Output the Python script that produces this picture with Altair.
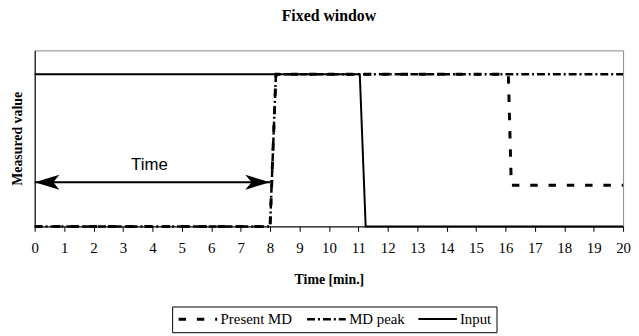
import altair as alt
import pandas as pd

# ---- data ----
series_names = ["Present MD", "MD peak", "Input"]

present_x = [0, 8.0, 8.2, 16.1, 16.2, 20]
present_y = [0, 0, 1, 1, 0.27, 0.27]

peak_x = [0, 8.0, 8.2, 20]
peak_y = [0, 0, 1, 1]

input_x = [0, 11.05, 11.25, 20]
input_y = [1, 1, 0, 0]

x_ticks = list(range(0, 21))

arrow_x = [0, 8]
arrow_y = [0.29, 0.29]
label_text = ["Time"]
label_x = [3.9]
label_y = [0.40]

rows = []
for name, xs, ys in [("Present MD", present_x, present_y),
                     ("MD peak", peak_x, peak_y),
                     ("Input", input_x, input_y)]:
    for i, (xv, yv) in enumerate(zip(xs, ys)):
        rows.append({"series": name, "t": xv, "v": yv, "i": i})
lines_df = pd.DataFrame(rows)

arrow_df = pd.DataFrame({"t": arrow_x, "v": arrow_y, "side": ["left", "right"]})
text_df = pd.DataFrame({"t": label_x, "v": label_y, "label": label_text})

serif = "Liberation Serif"

x_scale = alt.Scale(domain=[0, 20], nice=False, zero=False)
y_scale = alt.Scale(domain=[0, 1.157], nice=False)

x_axis = alt.Axis(values=x_ticks, title="Time [min.]", grid=False, format="d",
                  tickSize=5, tickColor="black", domainColor="black",
                  labelFont=serif, labelFontSize=15, labelColor="black",
                  labelPadding=9, labelOverlap=False, labelFlush=False,
                  titleFont=serif, titleFontSize=14,
                  titleFontWeight="bold", titleColor="black", titlePadding=18)
y_axis = alt.Axis(labels=False, ticks=False, grid=False,
                  domainColor="black", title="Measured value",
                  titleFont=serif, titleFontSize=14,
                  titleFontWeight="bold", titleColor="black", titlePadding=10)

x_enc = alt.X("t:Q", scale=x_scale, axis=x_axis)
y_enc = alt.Y("v:Q", scale=y_scale, axis=y_axis)

legend = alt.Legend(
    title=None, orient="none", legendX=139, legendY=259, direction="horizontal",
    strokeColor="black", padding=5, symbolType="M -1 0 L 5 0", symbolSize=169,
    symbolStrokeColor="black", labelFont=serif, labelFontSize=15,
    labelColor="black", labelOffset=28, columnPadding=9, cornerRadius=0,
)

lines = alt.Chart(lines_df).mark_line(color="black", strokeCap="butt").encode(
    x=x_enc,
    y=y_enc,
    order="i:Q",
    strokeDash=alt.StrokeDash("series:N",
                              scale=alt.Scale(domain=series_names,
                                              range=[[7.5, 11], [8, 3, 2, 3], [1, 0]]),
                              legend=legend),
    strokeWidth=alt.StrokeWidth("series:N",
                                scale=alt.Scale(domain=series_names, range=[3, 2, 2]),
                                legend=legend),
)

arrow_line = alt.Chart(arrow_df).mark_line(color="black", strokeWidth=2).encode(
    x=x_enc, y=y_enc,
)

right_head = alt.Chart(arrow_df).transform_filter(alt.datum.side == "right").mark_point(
    shape="M 0 0 L -2 -0.6 L -1.5 0 L -2 0.6 Z", size=625, filled=True,
    color="black", opacity=1
).encode(x=x_enc, y=y_enc)

left_head = alt.Chart(arrow_df).transform_filter(alt.datum.side == "left").mark_point(
    shape="M 0 0 L 2 -0.6 L 1.5 0 L 2 0.6 Z", size=625, filled=True,
    color="black", opacity=1
).encode(x=x_enc, y=y_enc)

time_text = alt.Chart(text_df).mark_text(
    font="Liberation Sans", fontSize=17, color="black", baseline="middle", align="center"
).encode(x=x_enc, y=y_enc, text="label:N")

chart = alt.layer(lines, arrow_line, right_head, left_head, time_text).properties(
    width=595,
    height=178,
    autosize=alt.AutoSizeParams(type="none"),
    padding={"left": 27, "top": 41, "right": 8, "bottom": 110},
    title=alt.TitleParams("Fixed window", font=serif, fontSize=16, fontWeight="bold",
                          color="black", anchor="middle", offset=27),
).configure_view(
    stroke="#888888", strokeWidth=1
)

chart.save("out.html", embed_options={"renderer": "svg", "actions": False})
